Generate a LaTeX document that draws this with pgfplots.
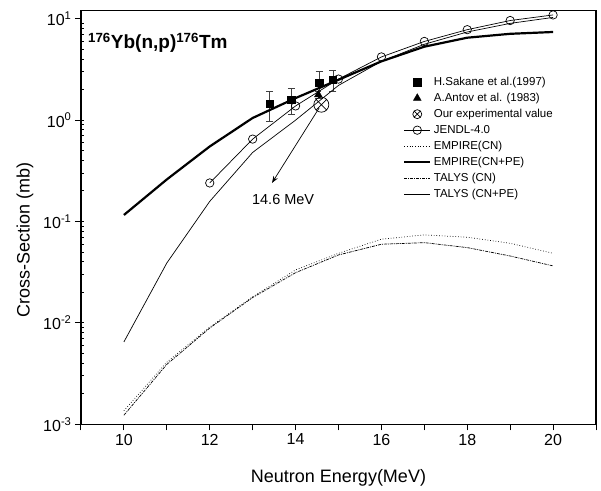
\documentclass[border=0pt]{standalone}
\usepackage{fontspec}
\setmainfont{Liberation Sans}
\usepackage{pgfplots}
\pgfplotsset{compat=1.18}
\usetikzlibrary{arrows.meta}

\begin{document}
\begin{tikzpicture}
\begin{axis}[
    scale only axis,
    width=515pt, height=413.6pt,
    xmin=9, xmax=21,
    ymode=log, ymin=1e-3, ymax=12,
    xtick={9,...,21},
    xticklabels={,10,,12,,14,,16,,18,,20,},
    yticklabel={10\textsuperscript{\pgfmathparse{int(round(\tick/2.302585))}\pgfmathresult}},
    tick pos=left, tick align=outside,
    major tick length=6pt, minor tick length=3pt,
    minor y tick style={xshift=3pt},
    axis line style={line width=1.2pt},
    every tick/.style={black, line width=1pt},
    ticklabel style={font=\fontsize{16}{19}\selectfont},
    xlabel={Neutron Energy(MeV)},
    ylabel={Cross-Section (mb)},
    label style={font=\fontsize{18}{21}\selectfont},
    xlabel style={at={(axis description cs:0.5,-0.1306)}, anchor=center},
    ylabel style={at={(axis description cs:-0.1087,0.4456)}, anchor=center},
    legend style={draw=none, fill=none, at={(axis description cs:0.6252,0.847)},
        anchor=north west, inner sep=0pt, row sep=0pt,
        font=\fontsize{11.5}{13}\selectfont,
        nodes={text height=8.5pt, text depth=2.5pt, inner sep=2.5pt}},
    legend cell align=left,
    legend image code/.code={\draw[mark repeat=2,mark phase=2,#1]
        plot coordinates {(0pt,0pt) (13pt,0pt) (26pt,0pt)};},
]
% experimental data
\addplot[only marks, mark=square*, mark size=3.6pt, black,
    error bars/.cd, y dir=both, y explicit,
    error bar style={black!75, line width=0.8pt},
    error mark options={rotate=90, black!75, line width=0.8pt, mark size=3.5pt}]
    coordinates {(13.4,1.45) +- (0,0.47) (13.9,1.6) +- (0,0.47)
                 (14.55,2.35) +- (0,0.7) (14.87,2.5) +- (0,0.6)};
\addlegendentry{H.Sakane et al.(1997)}
\addplot[only marks, mark=triangle*, mark size=4.5pt, black,
    error bars/.cd, y dir=both, y explicit,
    error bar style={black!75, line width=0.8pt},
    error mark options={rotate=90, black!75, line width=0.8pt, mark size=3pt}]
    coordinates {(14.53,1.78) +- (0,0.15)};
\addlegendentry{A.Antov et al. (1983)}
\addplot[only marks, mark=otimes, mark size=7.5pt, black, line width=0.7pt,
    legend image post style={mark size=4.5pt}]
    coordinates {(14.6,1.42)};
\addlegendentry{Our experimental value}
% evaluations and calculations
\addplot[black, line width=0.7pt, mark=o, mark size=4.2pt,
    mark options={fill=white, solid}]
    coordinates {(12,0.24) (13,0.65) (14,1.38) (15,2.54) (16,4.2)
                 (17,5.97) (18,7.8) (19,9.6) (20,10.9)};
\addlegendentry{JENDL-4.0}
\addplot[black, line width=0.7pt, dotted]
    coordinates {(10,0.00136) (11,0.0041) (12,0.0091) (13,0.0181) (14,0.0333)
                 (15,0.0486) (16,0.0669) (17,0.0738) (18,0.070) (19,0.061) (20,0.0486)};
\addlegendentry{EMPIRE(CN)}
\addplot[black, line width=2.2pt]
    coordinates {(10,0.116) (11,0.26) (12,0.55) (13,1.05) (14,1.65)
                 (15,2.5) (16,3.8) (17,5.3) (18,6.5) (19,7.1) (20,7.4)};
\addlegendentry{EMPIRE(CN+PE)}
\addplot[black, line width=0.7pt, dash pattern=on 3pt off 1pt on 1pt off 1pt]
    coordinates {(10,0.00123) (11,0.0039) (12,0.0089) (13,0.0178) (14,0.0313)
                 (15,0.0468) (16,0.0597) (17,0.0619) (18,0.0553) (19,0.0457) (20,0.0365)};
\addlegendentry{TALYS (CN)}
\addplot[black, line width=0.7pt]
    coordinates {(10,0.0065) (11,0.039) (12,0.158) (13,0.48) (14,1.0)
                 (15,2.2) (16,3.8) (17,5.6) (18,7.4) (19,9.0) (20,10.3)};
\addlegendentry{TALYS (CN+PE)}
% annotations
\node[anchor=west, inner sep=0pt, font=\bfseries\fontsize{19}{21}\selectfont]
    at (axis description cs:0.0136,0.922) {\textsuperscript{176}Yb(n,p)\textsuperscript{176}Tm};
\draw[black, line width=0.7pt, -{Stealth[length=7pt,width=5pt]}]
    (axis cs:14.55,1.32) -- (axis cs:13.45,0.24);
\node[font=\fontsize{14.5}{16}\selectfont] at (axis cs:13.71,0.163) {14.6 MeV};
\end{axis}
\path (current axis.south west) -- ++(-81pt,-66.7pt);
\path (current axis.north east) -- ++(5pt,10.7pt);
\end{tikzpicture}
\end{document}
